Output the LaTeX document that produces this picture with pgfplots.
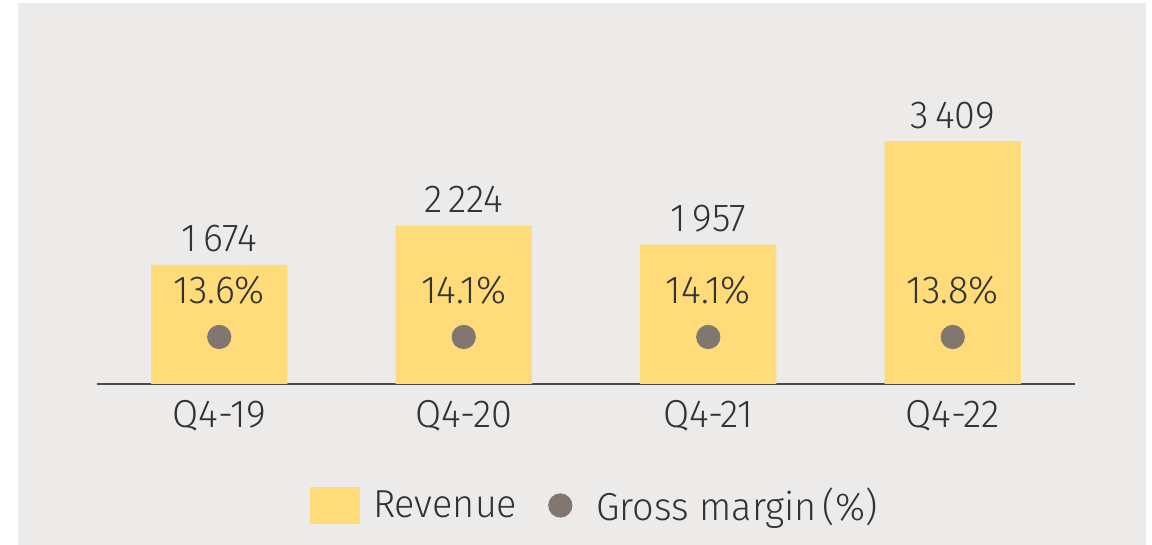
\documentclass[border=0pt]{standalone}
\usepackage{pgfplots}
\pgfplotsset{compat=1.18}
\usepackage{fontspec}
\setmainfont{Fira Sans Light}[FakeStretch=0.97]
\definecolor{bg}{HTML}{EDEBE9}
\definecolor{barc}{HTML}{FFDB7A}
\definecolor{dotc}{HTML}{817770}
\definecolor{txt}{HTML}{333333}
\definecolor{axl}{HTML}{4A4A4A}
\newcommand{\lblfont}{\fontsize{19.5}{22}\selectfont}
\begin{document}
\begin{tikzpicture}[x=1pt,y=1pt]
\useasboundingbox (0,0) rectangle (576,272.5);
\fill[white] (0,0) rectangle (576,272.5);
\fill[bg] (9,0) rectangle (573,271);
\begin{axis}[
  at={(48.5pt,80.5pt)}, anchor=south west,
  scale only axis, width=489pt, height=150pt,
  xmin=-0.5, xmax=3.5, ymin=0, ymax=4212,
  axis y line=none, axis x line*=bottom,
  x axis line style={draw=axl, line width=1pt, -},
  xtick={0,1,2,3}, xticklabels={Q4-19,Q4-20,Q4-21,Q4-22},
  major tick length=0pt,
  xticklabel style={anchor=base, yshift=-22pt, font=\lblfont, text=txt},
  clip=false,
  legend style={at={(0.2178,-0.405)}, anchor=west, draw=none, fill=none,
    inner sep=0pt, outer sep=0pt, legend columns=2,
    font=\lblfont, text=txt,
    nodes={inner sep=0pt, text=txt},
    /tikz/every even column/.append style={column sep=15.5pt}},
]
\addplot[ybar, bar width=68pt, fill=barc, draw=none,
  point meta=explicit symbolic, nodes near coords={\pgfplotspointmeta},
  every node near coord/.style={anchor=base, yshift=6.5pt, inner sep=0pt, text=txt, font=\lblfont},
  legend image code/.code={\fill[barc] (0pt,-9.25pt) rectangle (25pt,9.25pt);}]
  coordinates {(0,1674)[1\,674] (1,2224)[2\,224] (2,1957)[1\,957] (3,3409)[3\,409]};
\addlegendentry{\hspace{6.5pt}Revenue}
\addplot[only marks, color=dotc, mark=*, mark size=5.85pt, mark options={fill=dotc, draw=none},
  legend image code/.code={\fill[dotc] (5.85pt,0pt) circle (5.85pt);}]
  coordinates {(0,660) (1,660) (2,660) (3,660)};
\addlegendentry{\hspace{12pt}Gross margin\hspace{3pt}(\%)}
\addplot[only marks, mark=none, forget plot,
  point meta=explicit symbolic, nodes near coords={\pgfplotspointmeta},
  every node near coord/.style={anchor=base, inner sep=0pt, text=txt, font=\lblfont}]
  coordinates {(0,1137)[13.6\%] (1,1137)[14.1\%] (2,1137)[14.1\%] (3,1137)[13.8\%]};
\end{axis}
\end{tikzpicture}
\end{document}
